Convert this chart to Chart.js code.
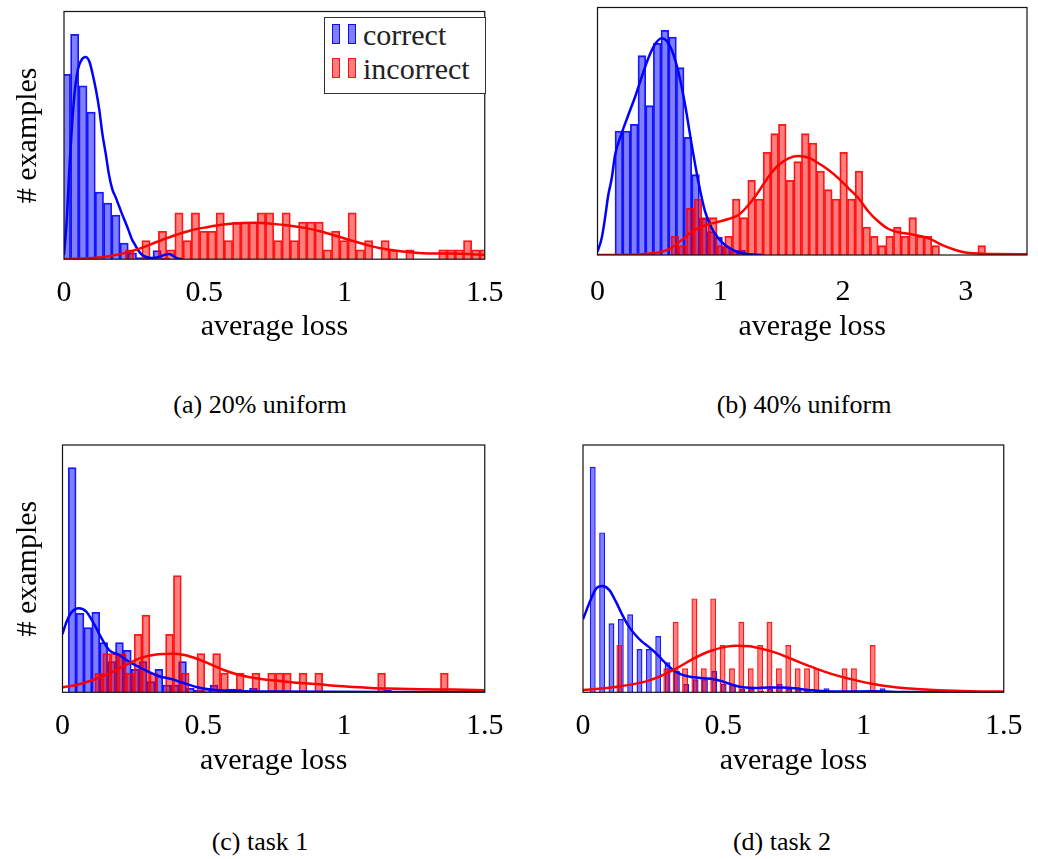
<!DOCTYPE html>
<html>
<head>
<meta charset="utf-8">
<script src="https://cdn.jsdelivr.net/npm/chart.js@4.4.1/dist/chart.umd.min.js"></script>
<style>
  body { margin: 0; width: 1038px; height: 859px; position: relative; overflow: hidden; background: #fff;
         font-family: "Liberation Serif", "Times New Roman", serif; }
  canvas { position: absolute; }
  .caption { position: absolute; width: 300px; text-align: center; font-size: 26px; line-height: 30px; color: #000; }
  #legend { position: absolute; left: 324px; top: 17px; width: 160px; height: 75px; border: 1.3px solid #333; background: #fff; }
  #legend .row { position: absolute; left: 0; height: 34px; width: 100%; font-size: 30px; line-height: 34px; color: #222; }
  #legend .patch { position: absolute; top: 6px; width: 5.6px; height: 17.6px; border: 1.2px solid; }
  #legend .txt { position: absolute; left: 38px; top: 0; white-space: nowrap; }
</style>
</head>
<body>
<canvas id="chartA" width="519" height="360" style="left:0px;top:0px"></canvas>
<canvas id="chartB" width="498" height="360" style="left:540px;top:0px"></canvas>
<canvas id="chartC" width="519" height="370" style="left:0px;top:430px"></canvas>
<canvas id="chartD" width="498" height="370" style="left:540px;top:430px"></canvas>
<div id="legend"></div>
<div class="caption" style="left:110px;top:390px">(a) 20% uniform</div>
<div class="caption" style="left:654px;top:390px">(b) 40% uniform</div>
<div class="caption" style="left:110px;top:827px">(c) task 1</div>
<div class="caption" style="left:632px;top:827px">(d) task 2</div>
<script>
// ---- data (heights in density units, same scale for bars and kde in a panel) ----

// (a) 20% uniform
const aTicks = [0, 0.5, 1, 1.5];
const aBlueFirst = 0.0087, aBlueStep = 0.0294;
const aBlue = [184.7, 224.7, 173.3, 147, 67, 56, 44, 16, 6.3, 1.5, 1.5, 8.7, 1];
const aRedFirst = 0.2335, aRedStep = 0.0294;
const aRed = [9.3, 0, 18.5, 0, 27.8, 9.3, 46.3, 18.5, 46.3, 27.8, 27.8, 46.3, 18.5, 37.1, 37.1, 37.1, 46.3, 46.3,
              18.5, 46.3, 18.5, 37.1, 37.1, 37.1, 9.3, 27.8, 18.5, 46.3, 9.3, 18.5, 0, 18.5, 9.3, 0, 9.3, 0, 0, 0,
              9.3, 9.3, 9.3, 18.5, 9.3, 9.3];
const aBlueKdeX = [0, 0.01, 0.02, 0.03, 0.04, 0.05, 0.06, 0.077, 0.091, 0.102, 0.114, 0.126, 0.137, 0.149, 0.16,
                   0.172, 0.184, 0.195, 0.207, 0.219, 0.23, 0.242, 0.254, 0.265, 0.277, 0.288, 0.312, 0.335, 0.358,
                   0.376, 0.387, 0.405, 0.422];
const aBlueKdeY = [4, 40, 95, 140, 172, 190, 198, 202, 197, 185, 169, 149, 125, 105, 85, 70, 62, 54, 45, 37, 29, 20,
                   14, 8.7, 4.7, 2.7, 1.3, 2, 4.3, 5.3, 3.7, 0.7, 0];
const aRedKdeX = [0, 0.1, 0.16, 0.219, 0.277, 0.335, 0.393, 0.451, 0.509, 0.567, 0.626, 0.684, 0.742, 0.8, 0.858,
                  0.916, 0.974, 1.033, 1.091, 1.149, 1.207, 1.265, 1.323, 1.381, 1.44, 1.5];
const aRedKdeY = [0.3, 1.3, 3, 6.3, 11.3, 17.7, 23.7, 28.7, 32, 34.7, 36, 36.3, 35.3, 33.7, 31.3, 27.7, 23, 18, 13.3,
                  10, 7.7, 6.3, 5.7, 5.7, 5.3, 4.3];

// (b) 40% uniform
const bTicks = [0, 1, 2, 3];
const bBlueFirst = 0.174, bBlueStep = 0.0625;
const bBlue = [124, 124, 130.7, 199.3, 149.3, 211.7, 224.7, 218, 187.3, 117.7, 80.3, 36.7, 23.3, 17.7, 8.3, 4.3, 5, 1.7];
const bRedFirst = 0.6308, bRedStep = 0.0625;
const bRed = [18.7, 9.3, 46.7, 56, 37.3, 37.3, 9.3, 18.7, 56, 37.3, 74.7, 56, 102.7, 121.3, 130.7, 74.7, 93.3, 121.3,
              112, 84, 65.3, 56, 102.7, 56, 84, 28, 18.7, 9.3, 18.7, 28, 18.7, 37.3, 18.7, 18.7, 9.3, 0, 0, 0, 0, 0, 9.3];
const bBlueKdeX = [0, 0.034, 0.061, 0.088, 0.116, 0.143, 0.197, 0.251, 0.306, 0.36, 0.414, 0.469, 0.524, 0.564, 0.605,
                   0.659, 0.714, 0.768, 0.822, 0.877, 0.931, 0.985, 1.04, 1.095, 1.148, 1.23, 1.34];
const bBlueKdeY = [3.3, 16.7, 36.7, 60, 76.7, 100, 121.7, 140, 158, 178, 196.7, 210.7, 216.7, 214, 205, 183.3, 150, 110,
                   73.3, 43.3, 26.7, 16.7, 10, 5.7, 2.7, 0.7, 0];
const bRedKdeX = [0, 0.251, 0.387, 0.524, 0.605, 0.687, 0.768, 0.85, 0.904, 0.986, 1.067, 1.149, 1.23, 1.312, 1.393,
                  1.475, 1.557, 1.638, 1.72, 1.801, 1.883, 1.964, 2.046, 2.127, 2.209, 2.291, 2.372, 2.454, 2.535,
                  2.617, 2.699, 2.78, 2.862, 2.943, 3.025, 3.134, 3.243, 3.515];
const bRedKdeY = [0, 0.3, 1, 3.3, 7.3, 15, 23.3, 28.3, 30.7, 33.3, 36, 40, 50, 63.3, 78.3, 90, 96.7, 99, 97.3, 91.7,
                  85, 76.7, 66.7, 56.7, 43.3, 33.3, 26, 22.7, 21.3, 19.3, 16.7, 11.7, 7.3, 4, 2, 1.3, 1, 0.7];

// (c) task 1
const cTicks = [0, 0.5, 1, 1.5];
const cBlueFirst = 0.0343, cBlueStep = 0.028;
const cBlue = [225, 79, 64.7, 80, 49.7, 30.7, 49.7, 42, 23, 30.7, 10.7, 23, 7.3, 7.3, 30.7, 4, 2.3, 4, 7.3, 2.3, 3.3,
               3.3, 1.3, 4, 1.3, 0, 0, 0, 0, 0, 0, 0, 0, 0, 0, 0, 0, 0, 0, 0, 2.3];
const cRedFirst = 0.129, cRedStep = 0.0279;
const cRed = [19.3, 38.7, 38.7, 38.7, 19.3, 58, 77.3, 19.3, 0, 58, 116.7, 19.3, 0, 38.7, 0, 38.7, 19.3, 0, 19.3, 0,
              19.3, 0, 19.3, 19.3, 19.3, 0, 19.3, 0, 19.3, 0, 0, 0, 0, 0, 0, 0, 19.3, 0, 0, 0, 0, 0, 0, 0, 19.3];
const cBlueKdeX = [0, 0.0145, 0.032, 0.0587, 0.0843, 0.1075, 0.1424, 0.1657, 0.2006, 0.2355, 0.2703, 0.3052, 0.34,
                   0.3866, 0.4331, 0.4796, 0.526, 0.5727, 0.6424, 0.747, 1.154, 1.503];
const cBlueKdeY = [58.3, 70.7, 80, 84, 80.7, 70.7, 52.3, 42.3, 37.3, 30.7, 25.7, 20.7, 16.3, 13.3, 9, 5, 2.7, 1.7, 1,
                   0.7, 0.3, 0.3];
const cRedKdeX = [0, 0.0494, 0.1075, 0.1657, 0.224, 0.282, 0.34, 0.3866, 0.4331, 0.4796, 0.526, 0.5727, 0.619, 0.6657,
                  0.712, 0.759, 0.805, 0.863, 0.9215, 0.98, 1.038, 1.096, 1.154, 1.27, 1.387, 1.503];
const cRedKdeY = [5, 7.3, 12.3, 19, 27.3, 34.7, 38, 38.7, 37.3, 33.3, 28, 22.3, 18, 15, 13, 11.7, 10.3, 9, 7.7, 6.3,
                  5.3, 4.3, 3.7, 3, 2.7, 2];

// (d) task 2
const dTicks = [0, 0.5, 1, 1.5];
const dBlueFirst = 0.0348, dBlueStep = 0.03333;
const dBlue = [225.7, 160, 69, 73.3, 78, 43.3, 43.3, 56.3, 30, 21.3, 8.3, 13, 13, 21.3, 8.3, 7.3, 3.3, 3.3, 1.3, 3.3,
               8.3, 3.3, 2.7, 1.3, 0, 4, 0, 0, 0, 0, 0, 4];
const dRedFirst = 0.1297, dRedStep = 0.03345;
const dRed = [47.3, 0, 0, 0, 0, 24, 70.7, 24, 94, 24, 94, 47.3, 24, 70.7, 24, 47.3, 70.7, 24, 47.3, 24, 24, 24, 0, 0,
              24, 24, 0, 47.3];
const dBlueKdeX = [0, 0.0244, 0.0476, 0.0685, 0.094, 0.1173, 0.1405, 0.1638, 0.187, 0.2102, 0.2334, 0.2567, 0.28,
                   0.303, 0.3264, 0.3496, 0.373, 0.396, 0.431, 0.4657, 0.5006, 0.5354, 0.5703, 0.6167, 0.6632, 0.7096,
                   0.756, 0.8026, 0.849, 0.9186, 1.0348, 1.151, 1.5];
const dBlueKdeY = [73, 90.7, 104, 106.3, 102.3, 90.7, 77.3, 65.7, 57.3, 50.7, 45.7, 40, 33.3, 26.7, 21.3, 18, 16, 15,
                   14, 13, 10.7, 7.3, 5, 4.3, 4.7, 4.7, 4, 2.3, 1.3, 0.7, 1, 0.3, 0];
const dRedKdeX = [0, 0.1057, 0.2218, 0.28, 0.338, 0.396, 0.454, 0.512, 0.547, 0.5935, 0.64, 0.6864, 0.7445, 0.8026,
                  0.8606, 0.9186, 0.977, 1.035, 1.093, 1.151, 1.267, 1.383, 1.5];
const dRedKdeY = [2.3, 5, 10.7, 16.7, 24.7, 34, 41.3, 45.7, 46.7, 46, 43.3, 39.7, 33.3, 26.7, 20.7, 15.7, 11.7, 8.3,
                  5.7, 4, 2, 1, 0.7];

const BLUE = 'rgb(0, 0, 255)';
const RED = 'rgb(255, 0, 0)';
const FONT = 'Liberation Serif';

Chart.defaults.font.family = FONT;

// frame round the plot area
const framePlugin = {
  id: 'frame',
  afterDraw(chart) {
    let a = chart.chartArea;
    let ctx = chart.ctx;
    ctx.save();
    ctx.strokeStyle = '#111';
    ctx.lineWidth = 1.2;
    ctx.strokeRect(a.left, a.top, a.right - a.left, a.bottom - a.top);
    ctx.restore();
  }
};

// histogram bins -> {x, y} at the bin centres
function binPoints(first, step, heights)
{
  let pts = [];
  for (let i = 0; i < heights.length; i++) {
    pts.push({x: first + i * step, y: heights[i]});
  }
  return pts;
}

function curvePoints(xs, ys)
{
  return xs.map((x, i) => ({x: x, y: ys[i]}));
}

function makePanel(id, p)
{
  let xOpts = {
    type: 'linear', min: 0, max: p.xMax, offset: false,
    grid: {display: false, drawTicks: false}, border: {display: false}
  };

  // bars of the two histograms sit on separate (identical) x scales, so each gets its own bin width
  return new Chart(document.getElementById(id), {
    type: 'bar',
    data: {
      datasets: [
        { type: 'bar', label: 'correct', data: binPoints(p.blueFirst, p.blueStep, p.blue), xAxisID: 'x',
          backgroundColor: 'rgba(0, 0, 255, 0.5)', borderColor: 'rgba(0, 0, 255, 0.9)', borderWidth: p.edge,
          grouped: false, barPercentage: p.barFrac, categoryPercentage: 1, order: 3 },
        { type: 'bar', label: 'incorrect', data: binPoints(p.redFirst, p.redStep, p.red), xAxisID: 'x2',
          backgroundColor: 'rgba(255, 0, 0, 0.5)', borderColor: 'rgba(255, 0, 0, 0.9)', borderWidth: p.edge,
          grouped: false, barPercentage: p.barFrac, categoryPercentage: 1, order: 2 },
        { type: 'line', label: 'correct kde', data: curvePoints(p.blueKdeX, p.blueKdeY), xAxisID: 'x',
          borderColor: BLUE, borderWidth: 2.5, pointRadius: 0, cubicInterpolationMode: 'monotone', order: 1 },
        { type: 'line', label: 'incorrect kde', data: curvePoints(p.redKdeX, p.redKdeY), xAxisID: 'x',
          borderColor: RED, borderWidth: 2.5, pointRadius: 0, cubicInterpolationMode: 'monotone', order: 0 }
      ]
    },
    options: {
      responsive: false,
      animation: false,
      devicePixelRatio: 1,
      events: [],
      layout: {padding: p.pad},
      plugins: {legend: {display: false}, tooltip: {enabled: false}},
      scales: {
        x: Object.assign({}, xOpts, {
          afterBuildTicks: (s) => { s.ticks = p.ticks.map(v => ({value: v})); },
          afterFit: (s) => { s.height = p.xH; },
          ticks: {color: '#000', font: {size: 30}, padding: p.tickPad, maxRotation: 0, autoSkip: false,
                  callback: (v) => String(v)},
          title: {display: true, text: 'average loss', color: '#000', font: {size: 30},
                  padding: {top: 0, bottom: p.titlePad}}
        }),
        x2: Object.assign({}, xOpts, {display: false}),
        y: {
          min: 0, max: p.yMax, display: p.yW > 0,
          grid: {display: false, drawTicks: false}, border: {display: false},
          ticks: {display: false},
          afterFit: (s) => { s.width = p.yW; },
          title: {display: p.yW > 0, text: '# examples', color: '#000', font: {size: 30},
                  padding: {top: 10, bottom: 0}}
        }
      }
    },
    plugins: [framePlugin]
  });
}

let chartA = makePanel('chartA', {
  xMax: 1.5, yMax: 247.5, ticks: aTicks, barFrac: 1, edge: 1.1,
  blueFirst: aBlueFirst, blueStep: aBlueStep, blue: aBlue, redFirst: aRedFirst, redStep: aRedStep, red: aRed,
  blueKdeX: aBlueKdeX, blueKdeY: aBlueKdeY, redKdeX: aRedKdeX, redKdeY: aRedKdeY,
  pad: {left: 0, top: 11.5, right: 24, bottom: 5.8}, yW: 64, xH: 95, tickPad: 15.5, titlePad: 9
});

makePanel('chartB', {
  xMax: 3.5, yMax: 247.5, ticks: bTicks, barFrac: 1, edge: 1.1,
  blueFirst: bBlueFirst, blueStep: bBlueStep, blue: bBlue, redFirst: bRedFirst, redStep: bRedStep, red: bRed,
  blueKdeX: bBlueKdeX, blueKdeY: bBlueKdeY, redKdeX: bRedKdeX, redKdeY: bRedKdeY,
  pad: {left: 57.5, top: 7.5, right: 11, bottom: 5}, yW: 0, xH: 100, tickPad: 19.5, titlePad: 10
});

makePanel('chartC', {
  xMax: 1.5, yMax: 247.5, ticks: cTicks, barFrac: 1, edge: 1.1,
  blueFirst: cBlueFirst, blueStep: cBlueStep, blue: cBlue, redFirst: cRedFirst, redStep: cRedStep, red: cRed,
  blueKdeX: cBlueKdeX, blueKdeY: cBlueKdeY, redKdeX: cRedKdeX, redKdeY: cRedKdeY,
  pad: {left: 0, top: 15, right: 25.5, bottom: 12.7}, yW: 62.5, xH: 95, tickPad: 15.5, titlePad: 8.6
});

makePanel('chartD', {
  xMax: 1.5, yMax: 247.5, ticks: dTicks, barFrac: 0.63, edge: 1.4,
  blueFirst: dBlueFirst, blueStep: dBlueStep, blue: dBlue, redFirst: dRedFirst, redStep: dRedStep, red: dRed,
  blueKdeX: dBlueKdeX, blueKdeY: dBlueKdeY, redKdeX: dRedKdeX, redKdeY: dRedKdeY,
  pad: {left: 43, top: 15, right: 23.7, bottom: 12.7}, yW: 0, xH: 95, tickPad: 15.5, titlePad: 8.6
});

// legend of panel (a), built from its bar datasets
let legendHtml = '';
let bars = chartA.data.datasets.filter(d => d.type == 'bar');
for (let i = 0; i < bars.length; i++) {
  let d = bars[i];
  legendHtml += `<div class="row" style="top:${i * 34}px">`
    + `<span class="patch" style="left:7.4px;background:${d.backgroundColor};border-color:${d.borderColor}"></span>`
    + `<span class="patch" style="left:23px;background:${d.backgroundColor};border-color:${d.borderColor}"></span>`
    + `<span class="txt">${d.label}</span></div>`;
}
document.getElementById('legend').innerHTML = legendHtml;
</script>
</body>
</html>
